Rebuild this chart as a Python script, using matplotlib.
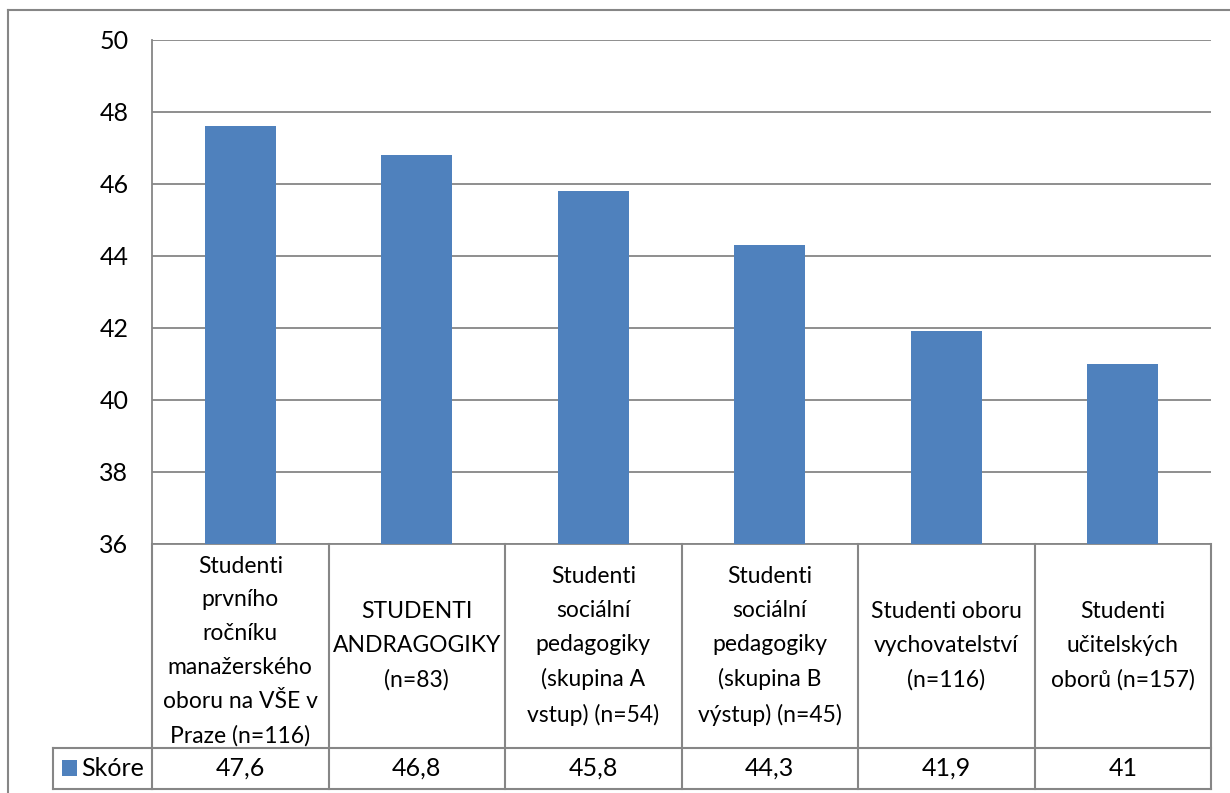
import matplotlib
matplotlib.use("Agg")
import matplotlib.pyplot as plt
from matplotlib.transforms import blended_transform_factory
from matplotlib.patches import Rectangle

categories = [
    "Studenti\nprvního\nročníku\nmanažerského\noboru na VŠE v\nPraze (n=116)",
    "STUDENTI\nANDRAGOGIKY\n(n=83)",
    "Studenti\nsociální\npedagogiky\n(skupina A\nvstup) (n=54)",
    "Studenti\nsociální\npedagogiky\n(skupina B\nvýstup) (n=45)",
    "Studenti oboru\nvychovatelství\n(n=116)",
    "Studenti\nučitelských\noborů (n=157)",
]
values = [47.6, 46.8, 45.8, 44.3, 41.9, 41]
series_name = "Skóre"
y_ticks = [36, 38, 40, 42, 44, 46, 48, 50]

BAR = "#4F81BD"
GRID = "#868686"
TXT = "#000000"
FONT = ["Lato", "DejaVu Sans"]
FS = 18
FS_CAT = 16.5

plt.rcParams["font.family"] = FONT

W, H = 1230, 793
fig = plt.figure(figsize=(W / 100, H / 100), dpi=100)
fig.patch.set_facecolor("white")

def fx(px):
    return px / W

def fy(py):
    return 1 - py / H

left, right, top, bottom = 152, 1211, 39.5, 544
ax = fig.add_axes([fx(left), fy(bottom), (right - left) / W, (bottom - top) / H])
x = list(range(len(values)))
ax.bar(x, [v - 36 for v in values], bottom=36, width=0.4, color=BAR, zorder=3)
ax.set_xlim(-0.5, len(values) - 0.5)
ax.set_ylim(36, 50)
ax.set_yticks(y_ticks)
ax.set_yticklabels([str(t) for t in y_ticks], fontsize=FS, color=TXT)
ax.tick_params(axis="y", length=0, pad=17)
ax.set_xticks([])
ax.yaxis.grid(True, color=GRID, linewidth=1.3, zorder=0)
for s in ["top", "right"]:
    ax.spines[s].set_visible(False)
for s in ["left", "bottom"]:
    ax.spines[s].set_color(GRID)
    ax.spines[s].set_linewidth(1.3)

# data table below the plot
tr = blended_transform_factory(ax.transData, fig.transFigure)
row1_top, row1_bot, row2_bot = 544, 748, 789
lw = 1.5
n = len(values)
for i in range(n + 1):
    fig.add_artist(plt.Line2D([i - 0.5, i - 0.5], [fy(row1_top), fy(row2_bot)],
                              transform=tr, color=GRID, lw=lw))
for yy in [row1_bot, row2_bot]:
    fig.add_artist(plt.Line2D([-0.5, n - 0.5], [fy(yy), fy(yy)],
                              transform=tr, color=GRID, lw=lw))
# legend cell
leg_left = 53
for yy in [row1_bot, row2_bot]:
    fig.add_artist(plt.Line2D([fx(leg_left), fx(left)], [fy(yy), fy(yy)],
                              transform=fig.transFigure, color=GRID, lw=lw))
fig.add_artist(plt.Line2D([fx(leg_left), fx(leg_left)], [fy(row1_bot), fy(row2_bot)],
                          transform=fig.transFigure, color=GRID, lw=lw))
fig.add_artist(Rectangle((fx(62), fy(776)), 15 / W, 16 / H, transform=fig.transFigure,
                         facecolor=BAR, edgecolor="none"))
fig.text(fx(81), fy(768.5), series_name, fontsize=FS, color=TXT, ha="left", va="center")

for i, (c, v) in enumerate(zip(categories, values)):
    cy = 651 if c.count("\n") >= 5 else 646
    fig.text(i, fy(cy), c, transform=tr, fontsize=FS_CAT, color=TXT, ha="center",
             va="center", linespacing=1.75, multialignment="center")
    s = (f"{v:g}").replace(".", ",")
    fig.text(i, fy(768.5), s, transform=tr, fontsize=FS, color=TXT, ha="center", va="center")

# outer chart frame
fig.add_artist(plt.Line2D([fx(8), 1.0], [fy(10), fy(10)], transform=fig.transFigure, color=GRID, lw=1.5))
fig.add_artist(plt.Line2D([fx(8), fx(8)], [fy(10), 0.0], transform=fig.transFigure, color=GRID, lw=1.5))

fig.savefig("out.png", dpi=100, facecolor="white")
